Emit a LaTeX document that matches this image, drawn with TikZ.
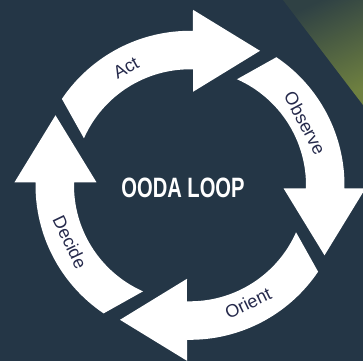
\documentclass[tikz,border=0pt]{standalone}
\usepackage{fontspec}
\setmainfont{Liberation Sans}
\usepackage{graphicx}
\definecolor{bgnavy}{HTML}{243646}
\definecolor{lblcol}{HTML}{262A4C}
\definecolor{gradtop}{HTML}{2F4144}
\definecolor{gradbot}{HTML}{6E8040}
\tikzset{
  arrowfill/.style={fill=white},
  lbl/.style={text=lblcol,font=\fontsize{18}{20}\selectfont,inner sep=0pt},
  oodaarrow/.pic={
    \path[arrowfill] (156.1:116) -- (146:154.5)
      arc[start angle=146, end angle=88.9, radius=154.5]
      -- (3,175.5) -- (70,134.5) -- (3,93.5) -- (88.5:116)
      arc[start angle=88.5, end angle=156.1, radius=116] -- cycle;
  }
}
\begin{document}
\begin{tikzpicture}[x=1pt,y=1pt]
\useasboundingbox (-190,-175.7) rectangle (173,185.3);
\fill[bgnavy] (-190,-175.7) rectangle (173,185.3);
\shade[top color=gradtop,bottom color=gradbot,shading angle=25] (93,185.3) -- (173,185.3) -- (173,80.3) -- cycle;
\pic at (0,0) {oodaarrow};
\pic[rotate=-90] at (0,0) {oodaarrow};
\pic[rotate=-180] at (0,0) {oodaarrow};
\pic[rotate=-270] at (0,0) {oodaarrow};
\node[lbl,rotate=28.8] (act) at (-64,117.3) {Act};
\node[lbl,rotate=-62] (observe) at (115,62.3) {Observe};
\node[lbl,rotate=26] (orient) at (58,-117.7) {Orient};
\node[lbl,rotate=-64.4] (decide) at (-120,-56.7) {Decide};
\node[text=white,inner sep=0pt] (title) at (-7,-2.7) {\scalebox{0.72}[1]{\fontsize{28}{30}\selectfont\bfseries OODA LOOP}};
\end{tikzpicture}
\end{document}
